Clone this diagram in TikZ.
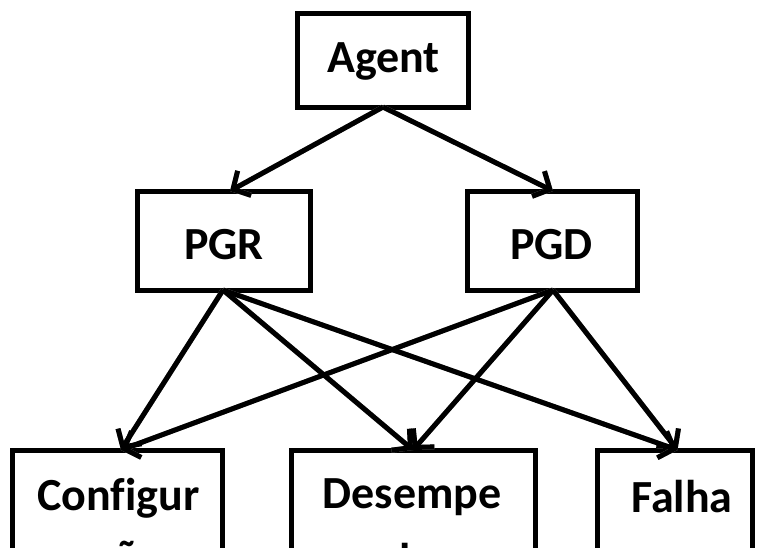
\documentclass[tikz,border=0pt]{standalone}
\usepackage{fontspec}
\setmainfont{Carlito}[Ligatures=CommonOff]
\usetikzlibrary{arrows.meta}
\begin{document}
\begin{tikzpicture}[x=1pt,y=-1pt,
  box/.style={draw=black,line width=5pt,fill=white,rectangle,inner sep=0pt,outer sep=0pt},
  lbl/.style={anchor=base,inner sep=0pt,align=center,
    font=\fontsize{46}{62}\selectfont\bfseries},
  link/.style={line width=5pt,-{Straight Barb[length=13pt,width=28pt,line width=5pt]}},
  linkshadow/.style={link,draw=black!40,xshift=1.8pt,yshift=-1.8pt}]
\useasboundingbox (0,0) rectangle (760,547);
\clip (0,0) rectangle (760,547);

% boxes
\node[box,minimum width=171pt,minimum height=94pt] (agent) at (382.5,60) {};
\node[box,minimum width=173pt,minimum height=99pt] (pgr) at (223.5,240.5) {};
\node[box,minimum width=170pt,minimum height=99pt] (pgd) at (552,240.5) {};
\node[box,minimum width=210pt,minimum height=200pt] (conf) at (117,550) {};
\node[box,minimum width=244pt,minimum height=200pt] (des) at (413,550) {};
\node[box,minimum width=155pt,minimum height=200pt] (fal) at (674.5,550) {};

% labels (two-line labels are placed by the baseline of their last line)
\node[lbl] (tagent) at (383.5,72) {Agent};
\node[lbl] (tpgr) at (224,259) {PGR};
\node[lbl] (tpgd) at (551.5,259) {PGD};
\node[lbl] (tconf) at (118.5,572) {Configur\\ação};
\node[lbl,font=\fontsize{46}{67}\selectfont\bfseries] (tdes) at (412,575) {Desempe\\nho};
\node[lbl] (tfal) at (682,512) {Falha};

% connector end points
\coordinate (aout) at ([xshift=0.5pt]agent.south);
\coordinate (pgrin) at ([xshift=6.5pt]pgr.north);
\coordinate (pgdin) at ([xshift=1pt]pgd.north);
\coordinate (pgrout) at ([xshift=-0.5pt]pgr.south);
\coordinate (pgdout) at ([xshift=1pt]pgd.south);
\coordinate (confin) at ([xshift=4pt]conf.north);
\coordinate (desin) at ([xshift=0pt]des.north);
\coordinate (falin) at ([xshift=3pt]fal.north);

% connectors: a soft grey shadow under each black line
\foreach \s/\t in {aout/pgrin,aout/pgdin,pgrout/confin,pgrout/desin,pgrout/falin,
                   pgdout/confin,pgdout/desin,pgdout/falin}{
  \draw[linkshadow] (\s) -- (\t);
}
\foreach \s/\t in {aout/pgrin,aout/pgdin,pgrout/confin,pgrout/desin,pgrout/falin,
                   pgdout/confin,pgdout/desin,pgdout/falin}{
  \draw[link] (\s) -- (\t);
}
\end{tikzpicture}
\end{document}
